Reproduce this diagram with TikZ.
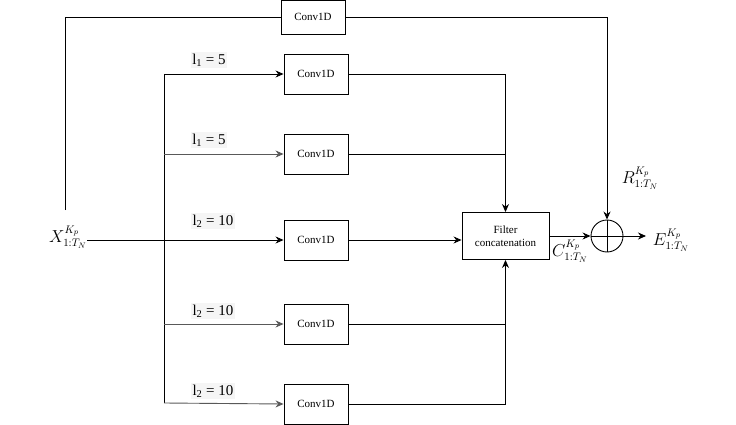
\documentclass[tikz,border=0pt]{standalone}
\usepackage{amsmath}
\usepackage{amssymb}
\usepackage{fontspec}
\setmainfont{Liberation Serif}
\usepackage{tikz}
\usetikzlibrary{arrows.meta}

\tikzset{
    convbox/.style={draw, minimum width=64pt, minimum height=40pt, inner sep=0pt,
        font=\fontsize{11}{13}\selectfont},
    lbl/.style={fill=gray!8, inner sep=1.5pt, font=\fontsize{15}{17}\selectfont},
    mlbl/.style={inner sep=0pt, font=\fontsize{16}{18}\selectfont},
    arr/.style={-{Stealth[length=8pt,width=7pt]}},
    gline/.style={draw=gray!70!black}
}

\begin{document}
\begin{tikzpicture}[x=1pt,y=-1pt,line width=0.9pt]
            \useasboundingbox (0,0) rectangle (736,425);

            % input and residual branch
            \node[mlbl] (x) at (68,237) {$X^{K_p}_{1:T_N}$};
            \node[convbox, minimum height=34pt] (top) at (313,17) {Conv1D};
            \coordinate (tl) at (65,17);
            \coordinate (xt) at (65,210);
            \coordinate (tr) at (607,17);

            % parallel convolutions
            \node[convbox] (c1) at (316,74) {Conv1D};
            \node[convbox] (c2) at (316,154) {Conv1D};
            \node[convbox] (c3) at (316,240) {Conv1D};
            \node[convbox] (c4) at (316,324) {Conv1D};
            \node[convbox] (c5) at (316,404) {Conv1D};
            \coordinate (sp1) at (164,74);
            \coordinate (sp3) at (164,240);
            \coordinate (sp5) at (164,403);

            \node[lbl] (k1) at (209,60) {l\textsubscript{1} = 5};
            \node[lbl] (k2) at (209,140) {l\textsubscript{1} = 5};
            \node[lbl] (k3) at (213,221) {l\textsubscript{2} = 10};
            \node[lbl] (k4) at (213,311) {l\textsubscript{2} = 10};
            \node[lbl] (k5) at (213,391) {l\textsubscript{2} = 10};

            % merge
            \node[draw, minimum width=87pt, minimum height=47pt, align=center,
                font=\fontsize{11}{13}\selectfont] (filt) at (505.5,236) {Filter\\concatenation};
            \node[draw, circle, minimum size=32pt, inner sep=0pt] (sum) at (607,236) {};
            \draw (sum.north) -- (sum.south);
            \draw (sum.west) -- (sum.east);
            \coordinate (eo) at (646,236);

            \node[mlbl] (c) at (570,251) {$C^{K_p}_{1:T_N}$};
            \node[mlbl] (r) at (640,178) {$R^{K_p}_{1:T_N}$};
            \node[mlbl] (e) at (671,240) {$E^{K_p}_{1:T_N}$};

            % connections
            \draw (xt) -- (tl) -- (top.west);
            \draw[arr] (top.east) -- (tr) -- (sum.north);
            \draw[arr] (x.east |- c3.west) -- (c3.west);
            \draw (sp1) -- (sp5);
            \draw[arr] (sp1) -- (c1.west);
            \draw[arr, gline] (sp3 |- c2.west) -- (c2.west);
            \draw[arr, gline] (sp3 |- c4.west) -- (c4.west);
            \draw[arr, gline] (sp5) -- (c5.west);

            \draw[arr] (c1.east) -| (filt.north);
            \draw (c2.east) -- (c2.east -| filt.north);
            \draw[arr] (c3.east) -- (c3.east -| filt.west);
            \draw (c4.east) -- (c4.east -| filt.south);
            \draw[arr] (c5.east) -| (filt.south);

            \draw[arr] (filt.east) -- (sum.west);
            \draw[arr] (sum.east) -- (eo);
        \end{tikzpicture}
\end{document}
